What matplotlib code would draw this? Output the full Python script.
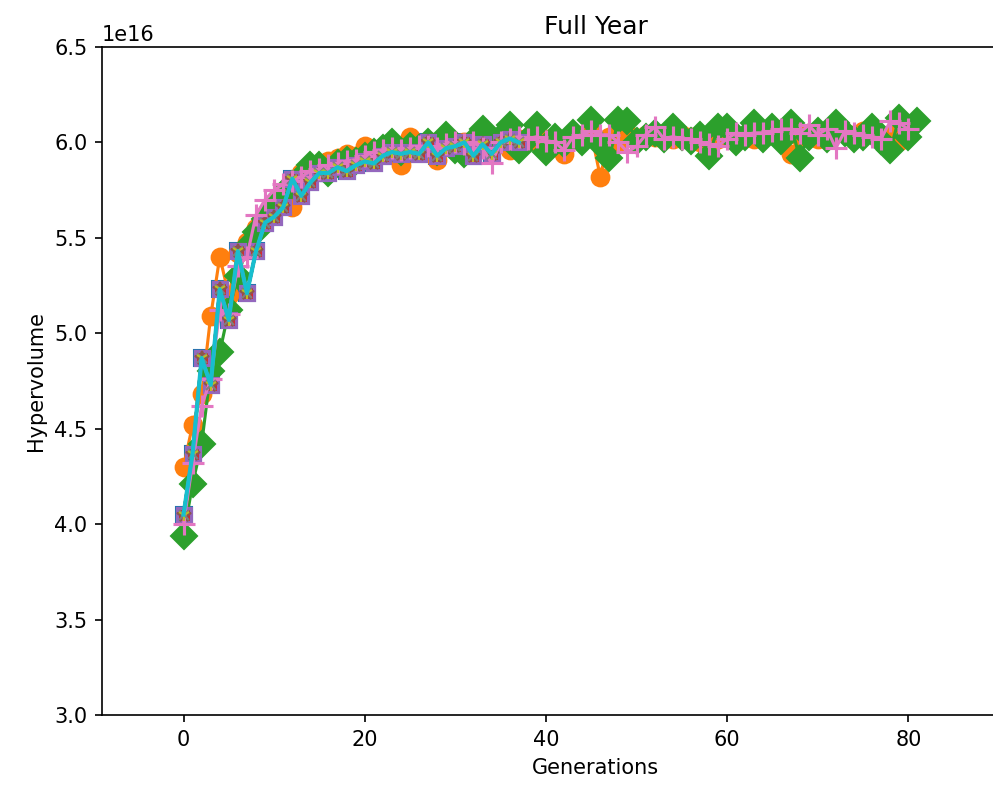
import numpy as np
import matplotlib
matplotlib.use("Agg")
import matplotlib.pyplot as plt

# hypervolume per generation (units of 1e16)
hv_base = [4.05, 4.37, 4.87, 4.73, 5.23, 5.07, 5.43, 5.21, 5.43, 5.58,
           5.61, 5.66, 5.81, 5.72, 5.79, 5.84, 5.84, 5.87, 5.85, 5.88,
           5.90, 5.89, 5.93, 5.95, 5.94, 5.95, 5.94, 6.00, 5.93, 5.97,
           5.98, 6.00, 5.93, 5.99, 5.94, 6.00, 6.02, 6.00]

hv_orange = [4.30, 4.52, 4.68, 5.09, 5.40, 5.20, 5.42, 5.48, 5.55, 5.62,
             5.65, 5.70, 5.66, 5.84, 5.85, 5.86, 5.90, 5.92, 5.94, 5.93,
             5.98, 5.96, 5.95, 5.96, 5.88, 6.03, 5.96, 6.01, 5.91, 6.00,
             5.99, 6.00, 6.01, 5.98, 5.99, 6.00, 5.96, 6.02, 6.01, 6.00,
             6.02, 6.01, 5.94, 6.02, 6.04, 6.05, 5.82, 6.03, 6.00, 6.05,
             6.02, 6.04, 6.03, 6.05, 6.02, 6.04, 6.03, 6.00, 6.04, 6.02,
             6.05, 6.03, 6.04, 6.02, 6.05, 6.04, 6.06, 5.94, 6.03, 6.05,
             6.02, 6.04, 6.06, 6.05, 6.04, 6.06, 6.05, 6.03, 6.04, 6.01]

hv_green = [3.94, 4.21, 4.42, 4.80, 4.90, 5.12, 5.30, 5.45, 5.53, 5.60,
            5.66, 5.73, 5.78, 5.82, 5.88, 5.88, 5.84, 5.89, 5.91, 5.90,
            5.93, 5.95, 5.97, 6.00, 5.95, 5.98, 5.97, 6.00, 5.95, 6.04,
            5.96, 5.94, 6.01, 6.07, 5.97, 6.03, 6.09, 5.96, 6.02, 6.09,
            5.95, 6.03, 5.99, 6.05, 6.00, 6.12, 5.99, 5.92, 6.12, 6.11,
            6.01, 6.03, 6.05, 6.02, 6.08, 6.03, 6.01, 6.04, 5.93, 6.08,
            6.08, 6.00, 6.03, 6.10, 6.02, 6.08, 6.01, 6.10, 5.92, 6.03,
            6.06, 6.02, 6.10, 6.05, 6.02, 6.03, 6.08, 6.01, 5.96, 6.13,
            6.03, 6.11]

hv_pink = [4.00, 4.32, 4.62, 4.76, 5.12, 5.10, 5.35, 5.40, 5.62, 5.70,
           5.75, 5.78, 5.80, 5.82, 5.85, 5.86, 5.88, 5.89, 5.90, 5.91,
           5.93, 5.95, 5.96, 5.97, 5.96, 5.97, 5.98, 5.98, 5.97, 5.99,
           6.00, 5.99, 6.00, 5.97, 5.89, 6.00, 6.02, 6.03, 6.02, 6.03,
           6.01, 6.00, 5.96, 6.03, 6.04, 6.06, 6.04, 6.04, 6.00, 5.95,
           5.98, 6.04, 6.08, 6.02, 6.03, 6.02, 6.02, 6.00, 5.99, 5.98,
           6.02, 6.05, 6.04, 6.05, 6.05, 6.06, 6.07, 6.07, 6.05, 6.09,
           6.04, 6.07, 5.97, 6.06, 6.05, 6.04, 6.03, 6.02, 6.11, 6.10,
           6.07]

gen_ticks = [0, 20, 40, 60, 80]

SCALE = 1e16


def plot_run(ax, values, **kw):
    gens = np.arange(len(values))
    ax.plot(gens, np.array(values) * SCALE, **kw)


fig = plt.figure(figsize=(993 / 150, 791 / 150), dpi=150)
ax = fig.add_axes([0.1027, 0.0961, 0.9945, 0.8445])

# series follow the default colour cycle
plot_run(ax, hv_base, color="tab:blue", marker="s", markersize=8)
plot_run(ax, hv_orange, color="tab:orange", marker="o", markersize=8.5)
plot_run(ax, hv_green, color="tab:green", marker="D", markersize=8.5)
plot_run(ax, hv_base, color="tab:red", marker="s", markersize=7)
plot_run(ax, hv_base, color="tab:purple", marker="s", markersize=7,
         markerfacecolor="none", markeredgewidth=1.5)
plot_run(ax, hv_base, color="tab:brown", marker="*", markersize=7)
plot_run(ax, hv_pink, color="tab:pink", marker="+", markersize=11,
         markeredgewidth=1.5)
plot_run(ax, hv_base, color="tab:gray", marker="x", markersize=5)
plot_run(ax, hv_base, color="tab:olive", marker="1", markersize=6)
plot_run(ax, hv_base, color="tab:cyan", linewidth=2)

ax.set_xlim(-9, 100)
ax.set_xticks(gen_ticks)
ax.set_ylim(3.0e16, 6.5e16)
ax.set_title("Full Year")
ax.set_xlabel("Generations")
ax.set_ylabel("Hypervolume")
ax.spines["right"].set_visible(False)

fig.savefig("out.png", dpi=150)
